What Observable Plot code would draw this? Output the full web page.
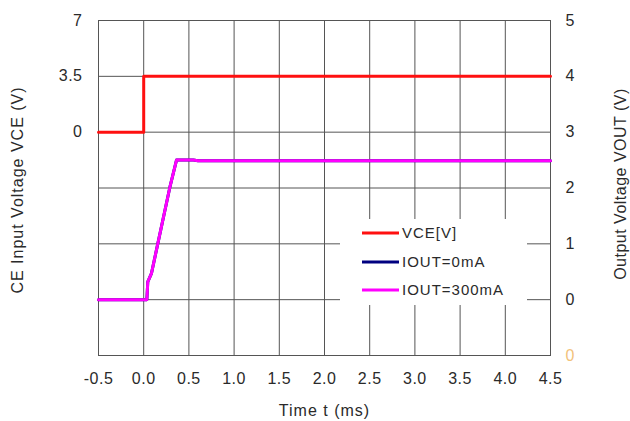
<!DOCTYPE html>
<html>
<head>
<meta charset="utf-8">
<script src="https://cdn.jsdelivr.net/npm/d3@7"></script>
<script src="https://cdn.jsdelivr.net/npm/@observablehq/plot@0.6"></script>
<style>
  html, body { margin: 0; padding: 0; background: #fff; }
  #wrap { position: relative; width: 630px; height: 421px; font-family: Arial, "Liberation Sans", sans-serif; }
  #legend { position: absolute; left: 340px; top: 219px; width: 187px; height: 86px; background: #fff; }
</style>
</head>
<body>
<div id="wrap"></div>
<script>
// ---- data ----
const xTicks = [-0.5, 0, 0.5, 1, 1.5, 2, 2.5, 3, 3.5, 4, 4.5];
const vceTime = [-0.5, 0.0, 0.0, 4.5];
const vceVal  = [0, 0, 3.5, 3.5];
const voutTime   = [-0.5, 0.035, 0.045, 0.086, 0.149, 0.289, 0.363, 0.55, 0.6, 4.5];
const vout0mA    = [0, 0, 0.32, 0.47, 0.95, 2.01, 2.5, 2.5, 2.49, 2.49];
const vout300mA  = [0, 0, 0.32, 0.47, 0.95, 2.01, 2.5, 2.5, 2.49, 2.49];
const leftTickVals = [7, 3.5, 0];
const leftTickLabels = ["7", "3.5", "0"];
const rightTickVals = [5, 4, 3, 2, 1, 0];
const rightExtraVal = [-1];
const rightExtraLabel = ["0"];
const gridYVals = [-1, 0, 1, 2, 3, 4, 5];
const seriesNames = ["VCE[V]", "IOUT=0mA", "IOUT=300mA"];
const seriesColors = ["#ff1010", "#000080", "#ff00ff"];

// VCE (left axis) mapped onto VOUT (right axis) coordinates: 0V -> 3, 3.5V -> 4, 7V -> 5
const vceToY = v => 3 + v / 3.5;

const vceData = vceTime.map((t, i) => ({t, y: vceToY(vceVal[i])}));
const v0Data = voutTime.map((t, i) => ({t, y: vout0mA[i]}));
const v300Data = voutTime.map((t, i) => ({t, y: vout300mA[i]}));

const chart = Plot.plot({
  width: 630,
  height: 421,
  marginLeft: 98,
  marginRight: 80,
  marginTop: 20,
  marginBottom: 66,
  style: {fontFamily: "Arial, 'Liberation Sans', sans-serif", fontSize: "16px", color: "#2a2a2a", letterSpacing: "0.5px", background: "#fff"},
  x: {domain: [-0.5, 4.5]},
  y: {domain: [-1, 5]},
  marks: [
    Plot.gridX({ticks: xTicks, stroke: "#555", strokeOpacity: 1}),
    Plot.gridY({ticks: gridYVals, stroke: "#555", strokeOpacity: 1}),
    Plot.frame({stroke: "#555"}),
    Plot.axisX({ticks: xTicks, tickFormat: d => d.toFixed(1), tickSize: 0, tickPadding: 17, label: null}),
    Plot.axisY({anchor: "left", ticks: leftTickVals.map(vceToY), tickFormat: (d, i) => leftTickLabels[i], tickSize: 0, tickPadding: 16, label: null}),
    Plot.axisY({anchor: "right", ticks: rightTickVals, tickFormat: d => String(d), tickSize: 0, tickPadding: 15, label: null}),
    Plot.text(rightExtraVal, {x: () => 4.5, y: d => d, text: (d, i) => rightExtraLabel[i], textAnchor: "start", dx: 15, fill: "#f2c27a"}),
    Plot.line(vceData, {x: "t", y: "y", stroke: seriesColors[0], strokeWidth: 3}),
    Plot.line(v0Data, {x: "t", y: "y", stroke: seriesColors[1], strokeWidth: 3}),
    Plot.line(v300Data, {x: "t", y: "y", stroke: seriesColors[2], strokeWidth: 3}),
    Plot.text(["CE Input Voltage VCE (V)"], {frameAnchor: "left", dx: -81, dy: 2, rotate: -90, textAnchor: "middle", lineAnchor: "middle", fontSize: 16, style: "letter-spacing:1px"}),
    Plot.text(["Output Voltage VOUT (V)"], {frameAnchor: "right", dx: 70, dy: -4, rotate: -90, textAnchor: "middle", lineAnchor: "middle", fontSize: 16}),
    Plot.text(["Time t (ms)"], {frameAnchor: "bottom", dy: 55, textAnchor: "middle", lineAnchor: "middle", fontSize: 16})
  ]
});

const wrap = document.getElementById("wrap");
wrap.appendChild(chart);

// wider spacing for the left and bottom titles
d3.select(chart).selectAll("text").filter(function() {
  const t = this.textContent;
  return t === "CE Input Voltage VCE (V)" || t === "Time t (ms)";
}).attr("letter-spacing", "1px");

// legend overlay
const legend = document.createElement("div");
legend.id = "legend";
const svg = d3.create("svg").attr("width", 187).attr("height", 86);
const rowsY = [14, 43, 71];
seriesNames.forEach((name, i) => {
  svg.append("line").attr("x1", 22).attr("x2", 59).attr("y1", rowsY[i]).attr("y2", rowsY[i])
    .attr("stroke", seriesColors[i]).attr("stroke-width", 3);
  svg.append("text").attr("x", 62).attr("y", rowsY[i]).attr("dy", "0.35em")
    .attr("font-family", "Arial, 'Liberation Sans', sans-serif").attr("font-size", 15)
    .attr("letter-spacing", "1px").attr("fill", "#2a2a2a").text(name);
});
legend.appendChild(svg.node());
wrap.appendChild(legend);
</script>
</body>
</html>
